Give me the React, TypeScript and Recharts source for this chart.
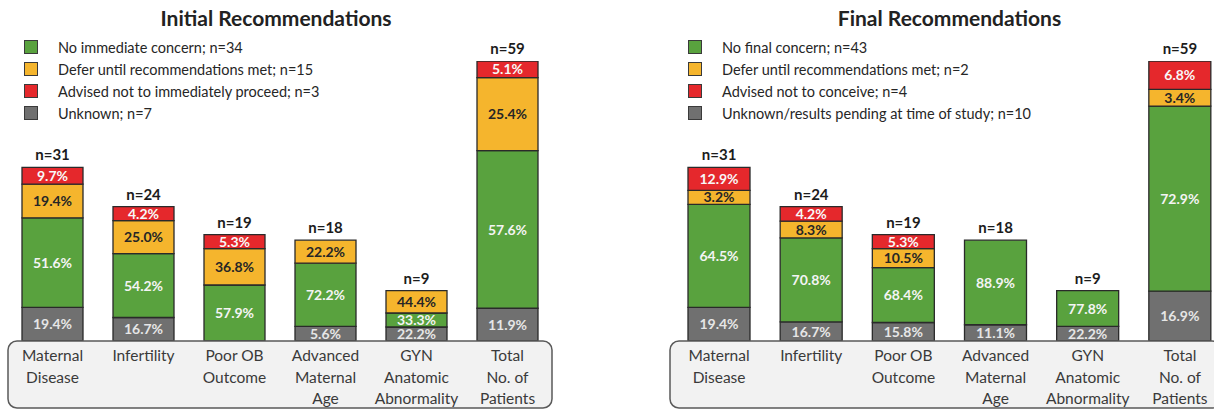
import React from 'react';
import { ComposedChart, Bar, Line, XAxis, YAxis, LabelList, Legend } from 'recharts';

// ---------- data ----------
const categories = [
  'Maternal Disease',
  'Infertility',
  'Poor OB Outcome',
  'Advanced Maternal Age',
  'GYN Anatomic Abnormality',
  'Total No. of Patients',
];
const tickLines = [
  ['Maternal', 'Disease'],
  ['Infertility'],
  ['Poor OB', 'Outcome'],
  ['Advanced', 'Maternal', 'Age'],
  ['GYN', 'Anatomic', 'Abnormality'],
  ['Total', 'No. of', 'Patients'],
];
const TOTAL_INDEX = 5;
const patientsN = [31, 24, 19, 18, 9, 59];

// segment sizes as drawn in the picture (in patients; total bar on its own scale)
const initialNoConcern = [16.0, 11.4, 10.0, 11.3, 2.5, 33.2];
const initialDefer = [6.0, 5.9, 6.5, 4.1, 4.0, 15.4];
const initialAdvised = [3.0, 2.5, 2.5, 0, 0, 3.5];
const initialUnknown = [6.0, 4.2, 0, 2.6, 2.5, 6.9];

const finalNoConcern = [18.4, 15.0, 9.8, 15.1, 6.4, 39.0];
const finalDefer = [2.5, 3.0, 3.4, 0, 0, 3.5];
const finalAdvised = [4.1, 2.6, 2.5, 0, 0, 6.0];
const finalUnknown = [6.0, 3.4, 3.3, 2.9, 2.6, 10.5];

// percentage labels shown in the segments
const initialNoConcernPct = [51.6, 54.2, 57.9, 72.2, 33.3, 57.6];
const initialDeferPct = [19.4, 25.0, 36.8, 22.2, 44.4, 25.4];
const initialAdvisedPct = [9.7, 4.2, 5.3, 0, 0, 5.1];
const initialUnknownPct = [19.4, 16.7, 0, 5.6, 22.2, 11.9];

const finalNoConcernPct = [64.5, 70.8, 68.4, 88.9, 77.8, 72.9];
const finalDeferPct = [3.2, 8.3, 10.5, 0, 0, 3.4];
const finalAdvisedPct = [12.9, 4.2, 5.3, 0, 0, 6.8];
const finalUnknownPct = [19.4, 16.7, 15.8, 11.1, 22.2, 16.9];

const initialLegend = [
  'No immediate concern; n=34',
  'Defer until recommendations met; n=15',
  'Advised not to immediately proceed; n=3',
  'Unknown; n=7',
];
const finalLegend = [
  'No final concern; n=43',
  'Defer until recommendations met; n=2',
  'Advised not to conceive; n=4',
  'Unknown/results pending at time of study; n=10',
];

// ---------- styles ----------
const GREEN = '#59a23e';
const YELLOW = '#f5b52d';
const RED = '#e5282c';
const GRAY = '#707070';
const STROKE = '#2a2a2a';
const FONT = 'Lato, "Open Sans", sans-serif';
const legendColors = [GREEN, YELLOW, RED, GRAY];

type Row = { [k: string]: any };

function buildRows(
  unk: number[], noc: number[], def: number[], adv: number[],
  pu: number[], pg: number[], py: number[], pr: number[]
): Row[] {
  return categories.map((cat, i) => {
    const isTot = i === TOTAL_INDEX;
    return {
      cat,
      u: isTot ? 0 : unk[i],
      g: isTot ? 0 : noc[i],
      y: isTot ? 0 : def[i],
      r: isTot ? 0 : adv[i],
      tu: isTot ? unk[i] : 0,
      tg: isTot ? noc[i] : 0,
      ty: isTot ? def[i] : 0,
      tr: isTot ? adv[i] : 0,
      n: isTot ? undefined : patientsN[i],
      tn: isTot ? patientsN[i] : undefined,
      pu: pu[i],
      pg: pg[i],
      py: py[i],
      pr: pr[i],
    };
  });
}

const initialRows = buildRows(
  initialUnknown, initialNoConcern, initialDefer, initialAdvised,
  initialUnknownPct, initialNoConcernPct, initialDeferPct, initialAdvisedPct
);
const finalRows = buildRows(
  finalUnknown, finalNoConcern, finalDefer, finalAdvised,
  finalUnknownPct, finalNoConcernPct, finalDeferPct, finalAdvisedPct
);

function geom(props: any) {
  const vb = props.viewBox || {};
  return {
    x: Number(vb.x ?? props.x),
    y: Number(vb.y ?? props.y),
    w: Number(vb.width ?? props.width ?? 0),
    h: Number(vb.height ?? props.height ?? 0),
  };
}

// find the category row a label belongs to from its band position
function rowIndexAt(cx: number, plotLeft: number, band: number) {
  const i = Math.floor((cx - plotLeft) / band);
  return Math.max(0, Math.min(categories.length - 1, i));
}

function makeSegLabel(rows: Row[], seg: string, forTotal: boolean, color: string, plotLeft: number, band: number) {
  return (props: any) => {
    const { x, y, w, h } = geom(props);
    if (!isFinite(x) || !isFinite(y)) return null;
    const cx = x + w / 2;
    const idx = rowIndexAt(cx, plotLeft, band);
    if ((idx === TOTAL_INDEX) !== forTotal) return null;
    const row = rows[idx];
    if (!row) return null;
    const p = row['p' + seg];
    if (!p) return null;
    return (
      <text
        x={cx}
        y={y + h / 2}
        dy="0.36em"
        textAnchor="middle"
        fontSize={14}
        fontWeight={700}
        fill={color}
        fontFamily={FONT}
      >
        {p.toFixed(1) + '%'}
      </text>
    );
  };
}

function makeNLabel(rows: Row[], key: string, plotLeft: number, band: number) {
  return (props: any) => {
    const { x, y } = geom(props);
    if (!isFinite(x) || !isFinite(y)) return null;
    const row = rows[rowIndexAt(x, plotLeft, band)];
    if (!row || row[key] == null) return null;
    return (
      <text x={x} y={y - 7} textAnchor="middle" fontSize={15} fontWeight={700} fill="#1c1c1c" fontFamily={FONT}>
        {`n=${row[key]}`}
      </text>
    );
  };
}

const makeAxisTick = (boxInset: number) => (props: any) => {
  const { x, y, payload, index, visibleTicksCount } = props;
  const lines = tickLines[index] ?? [String(payload?.value ?? '')];
  const half = payload?.offset ?? 45.5;
  const count = visibleTicksCount ?? categories.length;
  return (
    <g>
      {index === 0 && (
        <rect
          x={x - half + boxInset}
          y={y}
          width={half * 2 * count - 2}
          height={67}
          rx={9}
          ry={9}
          fill="#f2f2f2"
          stroke="#5a5a5a"
          strokeWidth={1.5}
        />
      )}
      <text x={x} y={y + 20} textAnchor="middle" fontSize={15.5} fill="#3a3a3a" fontFamily={FONT}>
        {lines.map((l, k) => (
          <tspan key={k} x={x} dy={k === 0 ? 0 : 21.5}>
            {l}
          </tspan>
        ))}
      </text>
    </g>
  );
};

const LegendBox = ({ labels }: { labels: string[] }) => (
  <div style={{ fontFamily: FONT, fontSize: 14.5, color: '#262626' }}>
    {labels.map((l, k) => (
      <div key={k} style={{ height: 22, display: 'flex', alignItems: 'center' }}>
        <span
          style={{
            display: 'inline-block',
            width: 12,
            height: 12,
            background: legendColors[k],
            border: '1px solid #3a3a3a',
            marginRight: 20,
            flex: 'none',
          }}
        />
        <span style={{ whiteSpace: 'nowrap' }}>{l}</span>
      </div>
    ))}
  </div>
);

type PanelProps = {
  title: string;
  rows: Row[];
  legend: string[];
  left: number;
  width: number;
  margin: { top: number; right: number; bottom: number; left: number };
  barSize: number;
  legendLeft: number;
  boxInset: number;
  titleShift: number;
};

const segs: [string, string, string][] = [
  ['u', GRAY, '#e6e6e6'],
  ['g', GREEN, '#f4f4f4'],
  ['y', YELLOW, '#262626'],
  ['r', RED, '#f8f8f8'],
];

const Panel = ({ title, rows, legend, left, width, margin, barSize, legendLeft, boxInset, titleShift }: PanelProps) => {
  const plotLeft = margin.left;
  const plotWidth = width - margin.left - margin.right;
  const band = plotWidth / categories.length;
  const Tick = makeAxisTick(boxInset);
  return (
    <div style={{ position: 'absolute', left, top: 0, width, height: 410 }}>
      <div
        style={{
          position: 'absolute',
          left: plotLeft + titleShift,
          width: plotWidth,
          top: 3,
          textAlign: 'center',
          fontFamily: FONT,
          fontWeight: 700,
          fontSize: 21,
          lineHeight: '30px',
          color: '#222',
        }}
      >
        {title}
      </div>
      <ComposedChart width={width} height={410} data={rows} margin={margin}>
        <YAxis yAxisId="main" type="number" domain={[0, 50]} allowDataOverflow hide />
        <YAxis yAxisId="tot" type="number" domain={[0, 59]} allowDataOverflow hide />
        <XAxis xAxisId="tot" dataKey="cat" type="category" hide />
        {segs.map(([k, fill, txt]) => (
          <Bar
            key={k}
            dataKey={k}
            stackId="m"
            xAxisId="main"
            yAxisId="main"
            fill={fill}
            stroke={STROKE}
            strokeWidth={1.3}
            barSize={barSize}
            isAnimationActive={false}
            legendType="none"
          >
            <LabelList content={makeSegLabel(rows, k, false, txt, plotLeft, band)} />
          </Bar>
        ))}
        {segs.map(([k, fill, txt]) => (
          <Bar
            key={'t' + k}
            dataKey={'t' + k}
            stackId="t"
            xAxisId="tot"
            yAxisId="tot"
            fill={fill}
            stroke={STROKE}
            strokeWidth={1.3}
            barSize={barSize}
            isAnimationActive={false}
            legendType="none"
          >
            <LabelList content={makeSegLabel(rows, k, true, txt, plotLeft, band)} />
          </Bar>
        ))}
        <Line
          dataKey="n"
          xAxisId="main"
          yAxisId="main"
          stroke="none"
          dot={false}
          activeDot={false}
          isAnimationActive={false}
          legendType="none"
        >
          <LabelList content={makeNLabel(rows, 'n', plotLeft, band)} />
        </Line>
        <Line
          dataKey="tn"
          xAxisId="tot"
          yAxisId="tot"
          stroke="none"
          dot={false}
          activeDot={false}
          isAnimationActive={false}
          legendType="none"
        >
          <LabelList content={makeNLabel(rows, 'tn', plotLeft, band)} />
        </Line>
        <XAxis
          xAxisId="main"
          dataKey="cat"
          type="category"
          height={60}
          tickSize={0}
          tickMargin={0}
          axisLine={false}
          tickLine={false}
          interval={0}
          tick={<Tick />}
        />
        <Legend
          layout="vertical"
          align="center"
          verticalAlign="middle"
          wrapperStyle={{ left: legendLeft, top: 36, width: 440, height: 90 }}
          content={() => <LegendBox labels={legend} />}
        />
      </ComposedChart>
    </div>
  );
};

export default function App() {
  return (
    <div
      style={{
        position: 'absolute',
        left: 0,
        top: 0,
        width: 1214,
        height: 410,
        overflow: 'hidden',
        background: '#fff',
      }}
    >
      <Panel
        title="Initial Recommendations"
        rows={initialRows}
        legend={initialLegend}
        left={0}
        width={600}
        margin={{ top: 61, right: 47, bottom: 9, left: 7 }}
        barSize={61}
        legendLeft={24}
        boxInset={1}
        titleShift={-4}
      />
      <Panel
        title="Final Recommendations"
        rows={finalRows}
        legend={finalLegend}
        left={614}
        width={614}
        margin={{ top: 61, right: 2, bottom: 9, left: 59 }}
        barSize={62}
        legendLeft={74}
        boxInset={-3}
        titleShift={0}
      />
    </div>
  );
}
